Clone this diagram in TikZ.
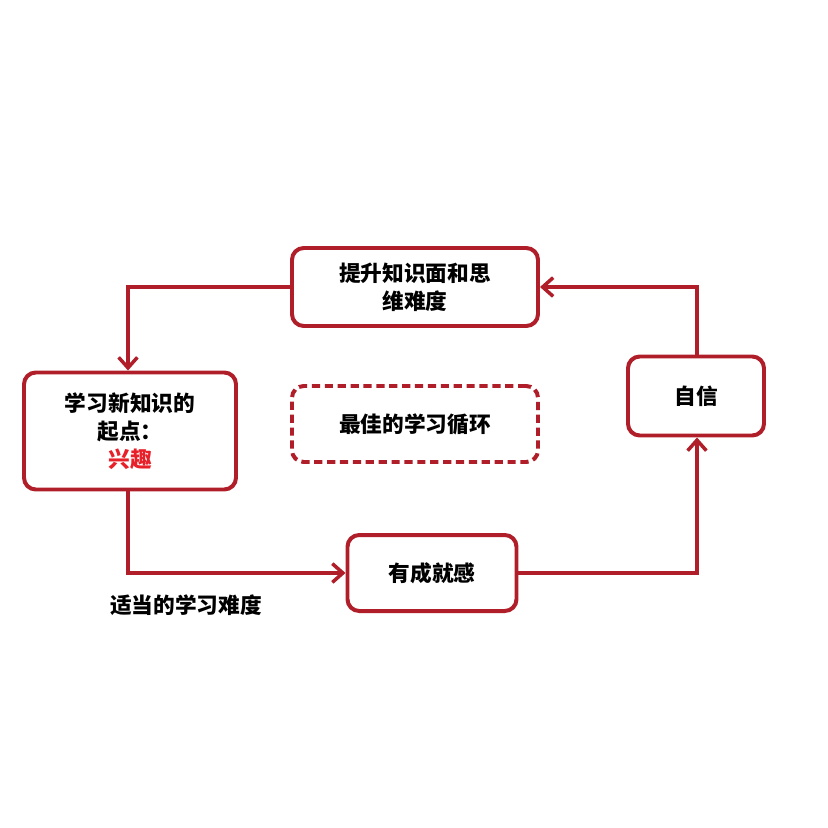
\documentclass[tikz,border=0pt]{standalone}
\usepackage{fontspec}
\newfontfamily\cjk{Noto Sans CJK SC}
\usetikzlibrary{arrows.meta}
\definecolor{dred}{HTML}{B01E2A}
\definecolor{bred}{HTML}{E8202A}
\tikzset{
 box/.style={draw=dred,line width=3.4pt,rounded corners=10pt,fill=white,align=center,font=\cjk\bfseries\fontsize{18.5}{24}\selectfont},
 conn/.style={draw=dred,line width=3.4pt,-{Straight Barb[length=9pt,width=16pt,line width=3pt]}}
}
\begin{document}
\begin{tikzpicture}[x=0.03cm,y=-0.03cm]
\useasboundingbox (0,0) rectangle (828,828);
\node[box,minimum width=246*0.03cm,minimum height=78*0.03cm] (top) at (415,287) {提升知识面和思\\维难度};
\node[box,minimum width=212*0.03cm,minimum height=117*0.03cm] (left) at (130,431) {学习新知识的\\起点：\\\textcolor{bred}{兴趣}};
\node[box,dash pattern=on 7pt off 4pt,minimum width=246*0.03cm,minimum height=76*0.03cm] (mid) at (415,424) {最佳的学习循环};
\node[box,minimum width=136*0.03cm,minimum height=79*0.03cm] (right) at (696,396) {自信};
\node[box,minimum width=169*0.03cm,minimum height=76*0.03cm] (bot) at (432,573) {有成就感};
\node[font=\cjk\bfseries\fontsize{18.5}{24}\selectfont] (lbl) at (186,605) {适当的学习难度};
\draw[conn] (top.west) -- (128,287) -- (left.north -| 128,0);
\draw[conn] (left.south -| 128,0) -- (128,573) -- (bot.west);
\draw[conn] (bot.east) -- (697,573) -- (right.south -| 697,0);
\draw[conn] (right.north -| 697,0) -- (697,287) -- (top.east);
\end{tikzpicture}
\end{document}
